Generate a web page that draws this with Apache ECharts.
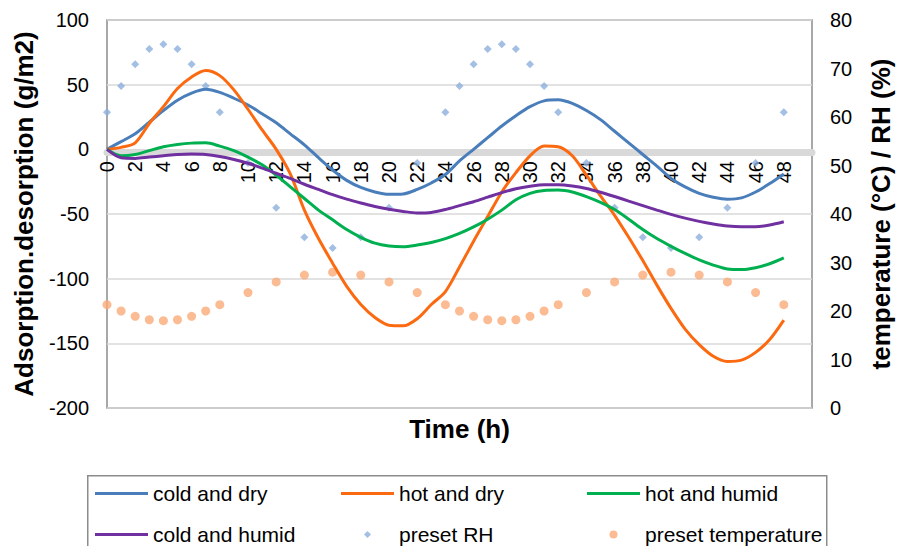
<!DOCTYPE html>
<html><head><meta charset="utf-8">
<script src="https://cdn.jsdelivr.net/npm/echarts@6/dist/echarts.min.js"></script>
<style>html,body{margin:0;padding:0;background:#fff}#c{width:902px;height:546px}</style>
</head><body><div id="c"></div>
<script>
// hours (h)
const hours = [0,1,2,3,4,5,6,7,8,9,10,11,12,13,14,15,16,17,18,19,20,21,22,23,24,25,26,27,28,29,30,31,32,33,34,35,36,37,38,39,40,41,42,43,44,45,46,47,48];
// adsorption/desorption (g/m2)
const coldDry = [0,6,12,21,30,38,43.5,46.4,44,39.5, 34.3,27.5,20.5,12,3.5,-6.5,-16,-24,-29.5,-33, -34.8,-34.5,-31,-26,-19.5,-9,0,9,18,26, 33,37.5,38.3,35.5,30,23,14,5,-4,-13, -22.5,-29,-34,-37,-38.5,-37.5,-33,-26.5,-19];
const hotDry = [0,1.5,5,20,33,47,56,61,57,46, 31,15,0,-19,-47,-69,-88,-106,-120,-130, -136,-136.5,-131,-120,-110,-91,-71,-52,-33,-18, -5,2.5,2,-5,-20,-36,-51,-68,-86,-105, -123,-139,-151,-160,-164,-163,-157,-147,-132];
const hotHumid = [0,-5,-4,-1,2,3.8,4.8,5,2.5,-1, -6,-12,-20,-29,-38,-47,-54.5,-62,-68,-72.5, -74.7,-75.3,-74,-72,-69,-65,-60,-54,-47,-39, -34,-31.8,-31.5,-33,-36.5,-41,-46.5,-54,-62,-69, -75,-80.5,-85.5,-89.5,-92.5,-93,-91.5,-88.5,-84];
const coldHumid = [0,-6.5,-7,-6,-5,-4,-3.7,-4,-5.5,-7.8, -10.8,-14.5,-18.5,-22.5,-27,-31,-35,-38.5,-41.5,-44.2, -46.4,-48,-49.2,-48.8,-46.5,-43.5,-40.5,-37,-33.5,-30.5, -28.5,-27.3,-27.3,-28.3,-30.3,-33.2,-36.5,-40,-43.5,-47, -50.3,-53.2,-55.7,-57.7,-59.2,-59.8,-59.8,-58.5,-56];
// presets (right axis)
const presetHours = [0,1,2,3,4,5,6,7,8,10,12,14,16,18,20,22,24,25,26,27,28,29,30,31,32,34,36,38,40,42,44,46,48];
const presetRH = [61,66.4,70.9,74,75,74,70.9,66.4,61,50.5,41.3,35.2,33,35.2,41.3,50.5,61,66.4,70.9,74,75,74,70.9,66.4,61,50.5,41.3,35.2,33,35.2,41.3,50.5,61];
const presetTemp = [21.3,20,18.9,18.2,18,18.2,18.9,20,21.3,23.8,26,27.4,28,27.4,26,23.8,21.3,20,18.9,18.2,18,18.2,18.9,20,21.3,23.8,26,27.4,28,27.4,26,23.8,21.3];
const leftTicks = {min:-200, max:100, interval:50};
const rightTicks = {min:0, max:80, interval:10};

const FONT = 'Liberation Sans, Arial, sans-serif';
const chart = echarts.init(document.getElementById('c'), null, {renderer:'svg'});
const pair = (xs, ys) => xs.map((x, i) => [x, ys[i]]);
const lineSeries = (name, arr, color) => ({
  type:'line', name, data: pair(hours, arr), symbol:'none', smooth:0.3,
  xAxisIndex:0, yAxisIndex:0, lineStyle:{width:3, color}, itemStyle:{color}, z:3
});
// legend icons drawn in a 53x8 box
const ICON_LINE = 'path://M0,0M53,8M0,2.5H53V5.5H0Z';
const ICON_DIAMOND = 'path://M0,0M53,8M26.5,0.5L30,4L26.5,7.5L23,4Z';
const ICON_DOT = 'path://M0,0M53,8M22.5,4A4,4,0,1,0,30.5,4A4,4,0,1,0,22.5,4Z';
const legendBase = {orient:'vertical', top:483, itemWidth:53, itemHeight:8, itemGap:20, padding:0,
  symbolKeepAspect:false,
  textStyle:{fontSize:21, color:'#000', fontFamily:FONT}, selectedMode:false};
const item = (name, icon) => ({name, icon});

chart.setOption({
  animation:false,
  textStyle:{fontFamily:FONT},
  grid:{left:107, right:82, top:20, bottom:138, show:true, borderColor:'#8c8c8c', borderWidth:1.5, backgroundColor:'transparent'},
  xAxis:[{
    type:'value', min:0, max:50, interval:2, position:'bottom', offset:-256,
    axisLine:{onZero:false, lineStyle:{color:'#d9d9d9', width:7}},
    axisTick:{show:false}, splitLine:{show:false},
    axisLabel:{rotate:90, fontSize:20, color:'#000', margin:9, showMaxLabel:false}
  },{
    type:'value', min:0, max:50, position:'bottom',
    axisLine:{show:false}, axisTick:{show:false}, axisLabel:{show:false}, splitLine:{show:false},
    name:'Time (h)', nameLocation:'middle', nameGap:8,
    nameTextStyle:{fontSize:26, fontWeight:'bold', color:'#000', verticalAlign:'top'}
  }],
  yAxis:[{
    type:'value', ...leftTicks, position:'left',
    axisLine:{show:false}, axisTick:{show:false},
    axisLabel:{fontSize:20, color:'#000', margin:18},
    splitLine:{lineStyle:{color:'#d9d9d9', width:1.5}},
    name:'Adsorption.desorption (g/m2)', nameLocation:'middle', nameGap:70, nameRotate:90,
    nameTextStyle:{fontSize:26, fontWeight:'bold', color:'#000'}
  },{
    type:'value', ...rightTicks, position:'right',
    axisLine:{show:false}, axisTick:{show:false}, splitLine:{show:false},
    axisLabel:{fontSize:20, color:'#000', margin:18},
    name:'temperature (°C) / RH (%)', nameLocation:'middle', nameGap:56, nameRotate:90,
    nameTextStyle:{fontSize:26, fontWeight:'bold', color:'#000'}
  }],
  legend:[
    Object.assign({}, legendBase, {left:95, data:[item('cold and dry', ICON_LINE), item('cold and humid', ICON_LINE)]}),
    Object.assign({}, legendBase, {left:341, data:[item('hot and dry', ICON_LINE), item('preset RH', ICON_DIAMOND)]}),
    Object.assign({}, legendBase, {left:587, data:[item('hot and humid', ICON_LINE), item('preset temperature', ICON_DOT)]})
  ],
  graphic:[{type:'rect', left:87, top:475, shape:{width:739, height:90}, silent:true, z:0,
    style:{fill:'#fff', stroke:'#8c8c8c', lineWidth:1.5}}],
  series:[
    lineSeries('cold and dry', coldDry, '#4a7ebb'),
    lineSeries('hot and dry', hotDry, '#fb6a10'),
    lineSeries('hot and humid', hotHumid, '#00b050'),
    lineSeries('cold and humid', coldHumid, '#7030a0'),
    {type:'scatter', name:'preset RH', yAxisIndex:1, xAxisIndex:0, symbol:'diamond', symbolSize:8,
      itemStyle:{color:'#8cafdc'}, data: pair(presetHours, presetRH), z:2},
    {type:'scatter', name:'preset temperature', yAxisIndex:1, xAxisIndex:0, symbol:'circle', symbolSize:9,
      itemStyle:{color:'#faaa78'}, data: pair(presetHours, presetTemp), z:2}
  ]
});
</script></body></html>
